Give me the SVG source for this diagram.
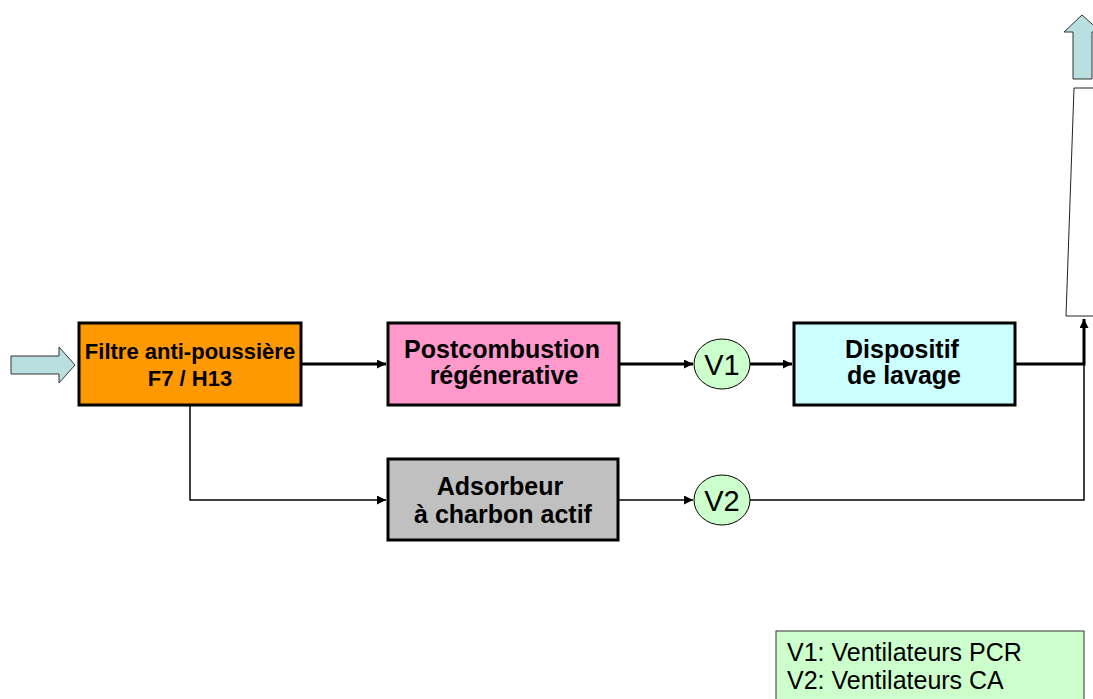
<svg xmlns="http://www.w3.org/2000/svg" width="1093" height="699" viewBox="0 0 1093 699">
<style>
.box{stroke:#000;stroke-width:3}
.b{font-family:"Liberation Sans",Arial,sans-serif;font-weight:bold;fill:#000;text-anchor:middle}
.r{font-family:"Liberation Sans",Arial,sans-serif;fill:#000}
.thick{stroke:#000;stroke-width:3;fill:none}
.thin{stroke:#000;stroke-width:1.5;fill:none}
.fan{fill:#CCFFCC;stroke:#000;stroke-width:1}
.blk{fill:#B9DFE1;stroke:#333;stroke-width:1}
</style>
<defs>
<marker id="ah" viewBox="0 0 10 10" refX="10" refY="5" markerWidth="10" markerHeight="9" markerUnits="userSpaceOnUse" orient="auto">
<path d="M0,0 L10,5 L0,10 z" fill="#000"/>
</marker>
</defs>
<rect width="1093" height="699" fill="#fff"/>

<g id="connectors">
<line class="thick" x1="302" y1="364" x2="386" y2="364" marker-end="url(#ah)"/>
<line class="thick" x1="620" y1="364" x2="693" y2="364" marker-end="url(#ah)"/>
<line class="thick" x1="750" y1="364" x2="792" y2="364" marker-end="url(#ah)"/>
<polyline class="thick" points="1016,364 1084,364 1084,319" marker-end="url(#ah)"/>
<polyline class="thin" points="190,406 190,500 386,500" marker-end="url(#ah)"/>
<line class="thin" x1="619" y1="500" x2="693" y2="500" marker-end="url(#ah)"/>
<polyline class="thin" points="750,500 1084,500 1084,364"/>
</g>

<g id="input-arrow">
<polygon class="blk" points="11,356 59,356 59,347 75,365 59,383 59,374 11,374"/>
</g>

<g id="filtre">
<rect class="box" x="79" y="323" width="222" height="82" fill="#FF9900"/>
<text class="b" x="190" y="359" font-size="22">Filtre anti-poussière</text>
<text class="b" x="190" y="386" font-size="22">F7 / H13</text>
</g>

<g id="postcombustion">
<rect class="box" x="388" y="323" width="231" height="82" fill="#FF99CC"/>
<text class="b" x="502" y="358" font-size="25">Postcombustion</text>
<text class="b" x="504" y="384" font-size="25">régénerative</text>
</g>

<g id="v1">
<ellipse class="fan" cx="722" cy="364" rx="28" ry="25"/>
<text class="r" x="722" y="375" font-size="29" text-anchor="middle">V1</text>
</g>

<g id="lavage">
<rect class="box" x="794" y="323" width="221" height="82" fill="#CCFFFF"/>
<text class="b" x="902" y="358" font-size="25">Dispositif</text>
<text class="b" x="904" y="384" font-size="25">de lavage</text>
</g>

<g id="adsorbeur">
<rect class="box" x="388" y="459" width="230" height="81" fill="#C0C0C0"/>
<text class="b" x="500" y="495" font-size="25">Adsorbeur</text>
<text class="b" x="503" y="523" font-size="25">à charbon actif</text>
</g>

<g id="v2">
<ellipse class="fan" cx="722" cy="500" rx="28" ry="25"/>
<text class="r" x="722" y="511" font-size="29" text-anchor="middle">V2</text>
</g>

<g id="cheminee">
<polygon points="1074,88 1100,88 1100,316 1066,316" fill="#fff" stroke="#222" stroke-width="1"/>
</g>

<g id="output-arrow">
<polygon class="blk" points="1073,79 1073,32 1064,32 1082,15 1101,32 1092,32 1092,79"/>
</g>

<g id="legende">
<rect x="776" y="631" width="308" height="80" fill="#CCFFCC" stroke="#333" stroke-width="1"/>
<text class="r" x="787" y="661" font-size="25">V1: Ventilateurs PCR</text>
<text class="r" x="787" y="689" font-size="25">V2: Ventilateurs CA</text>
</g>
</svg>
